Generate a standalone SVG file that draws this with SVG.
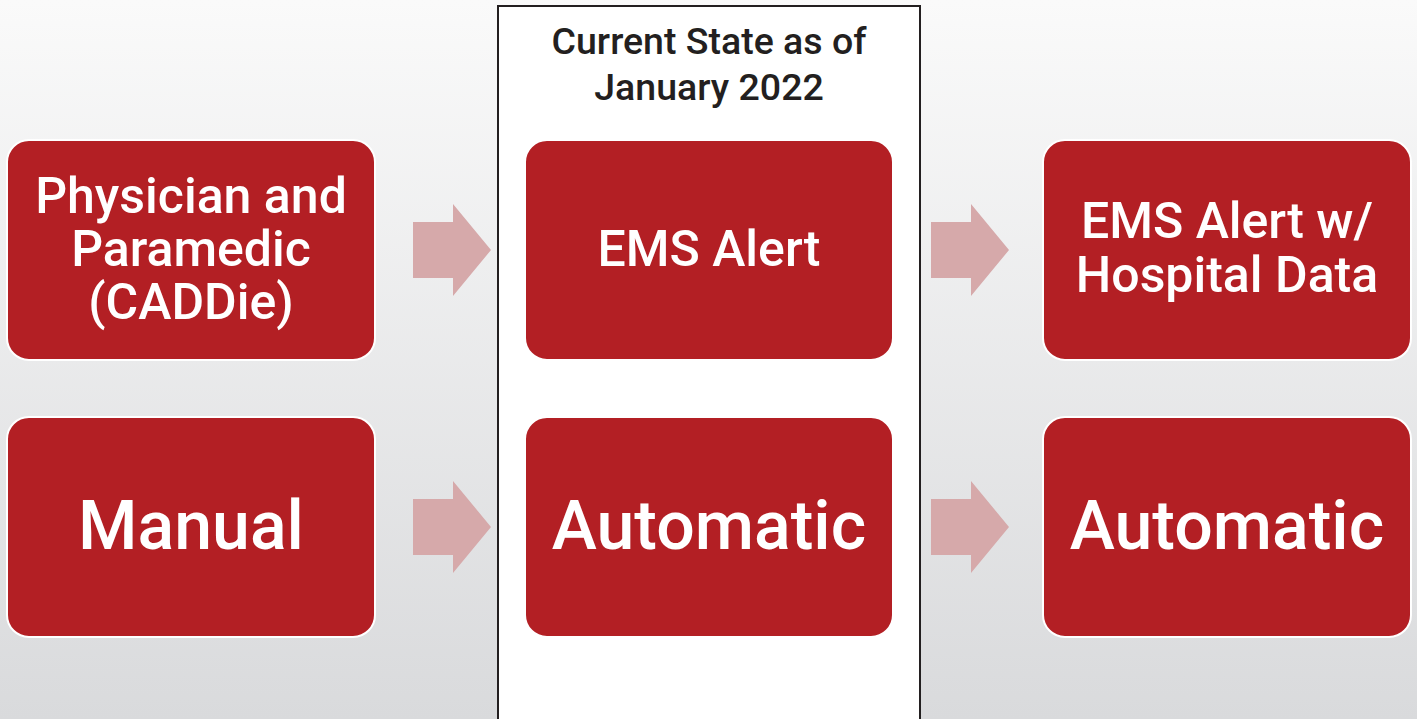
<svg xmlns="http://www.w3.org/2000/svg" width="1417" height="719" viewBox="0 0 1417 719">
<defs>
<linearGradient id="bg" x1="0" y1="0" x2="0" y2="1">
<stop offset="0" stop-color="#fafafa"/>
<stop offset="1" stop-color="#d9dadc"/>
</linearGradient>
</defs>
<style>
.box{fill:#b31f24;stroke:#ffffff;stroke-width:2}
.t{fill:#ffffff;font-family:Roboto,"Liberation Sans",Arial,sans-serif;font-weight:500;text-anchor:middle}
.m{font-size:50px}
.l{font-size:68px}
.arrow{fill:#d6a9aa}
.title{fill:#231f20;font-family:Roboto,"Liberation Sans",Arial,sans-serif;font-weight:500;font-size:37.5px;text-anchor:middle}
</style>
<rect x="0" y="0" width="1417" height="719" fill="url(#bg)"/>
<g id="current-state">
<rect x="498" y="6" width="422" height="720" fill="#ffffff" stroke="#231f20" stroke-width="2"/>
<text class="title" x="709" y="54">Current State as of</text>
<text class="title" x="709" y="100">January 2022</text>
</g>
<g id="connectors">
<polygon class="arrow" points="413,222 453,222 453,204 491,250 453,296 453,278 413,278"/>
<polygon class="arrow" points="931,222 971,222 971,204 1009,250 971,296 971,278 931,278"/>
<polygon class="arrow" points="413,499 453,499 453,481 491,527 453,573 453,555 413,555"/>
<polygon class="arrow" points="931,499 971,499 971,481 1009,527 971,573 971,555 931,555"/>
</g>
<g id="physician">
<rect class="box" x="7" y="140" width="368" height="220" rx="22"/>
<text class="t m" x="191" y="213">Physician and</text>
<text class="t m" x="191" y="266">Paramedic</text>
<text class="t m" x="191" y="319">(CADDie)</text>
</g>
<g id="manual">
<rect class="box" x="7" y="417" width="368" height="220" rx="22"/>
<text class="t l" x="191" y="549">Manual</text>
</g>
<g id="ems-alert">
<rect class="box" x="525" y="140" width="368" height="220" rx="22"/>
<text class="t m" x="709" y="266">EMS Alert</text>
</g>
<g id="automatic-1">
<rect class="box" x="525" y="417" width="368" height="220" rx="22"/>
<text class="t l" x="709" y="549">Automatic</text>
</g>
<g id="ems-hospital">
<rect class="box" x="1043" y="140" width="368" height="220" rx="22"/>
<text class="t m" x="1227" y="238">EMS Alert w/</text>
<text class="t m" x="1227" y="292">Hospital Data</text>
</g>
<g id="automatic-2">
<rect class="box" x="1043" y="417" width="368" height="220" rx="22"/>
<text class="t l" x="1227" y="549">Automatic</text>
</g>
</svg>
